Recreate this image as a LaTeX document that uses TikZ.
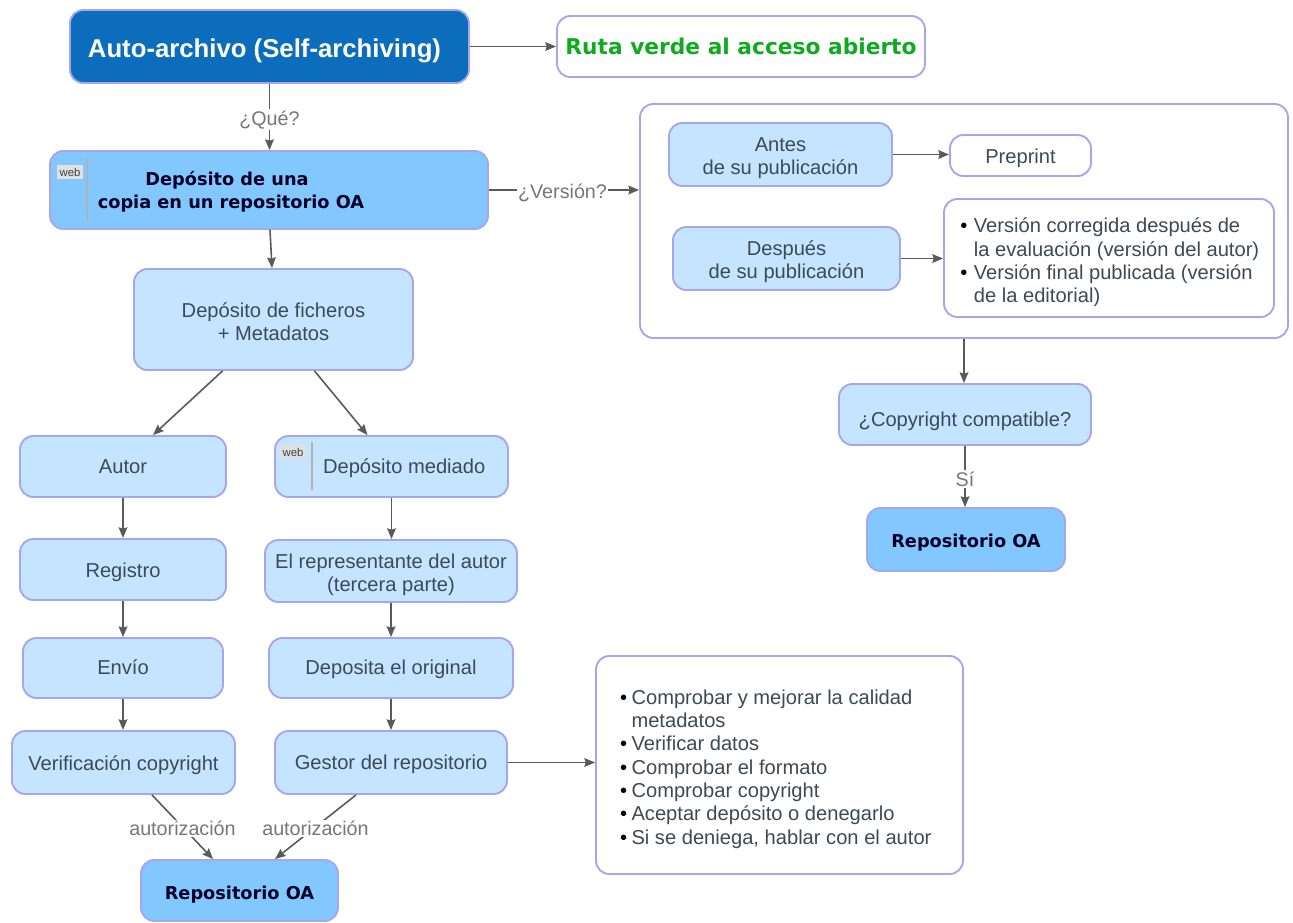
\documentclass[tikz,border=0pt]{standalone}
\usepackage{fontspec}
\setmainfont{Liberation Sans}
\newfontfamily\dejabold{DejaVu Sans Bold}
\usetikzlibrary{calc,arrows.meta}
\definecolor{edgeblue}{HTML}{A5A5F0}
\definecolor{lightb}{HTML}{C4E4FF}
\definecolor{midb}{HTML}{82C8FF}
\definecolor{darkb}{HTML}{0B6DBB}
\definecolor{txt}{HTML}{3C4A55}
\definecolor{lnk}{HTML}{5A5A5A}
\definecolor{lbl}{HTML}{777777}
\definecolor{vgreen}{HTML}{10AA20}
\newcommand{\bult}{\textcolor{black}{\textbullet}}
\tikzset{
  x=0.75pt,y=-0.75pt,
  base/.style={draw=edgeblue,line width=1.4pt,rounded corners=10pt,inner sep=0pt,align=center,
     font=\fontsize{15.1}{17.5}\selectfont,text=txt},
  light/.style={base,fill=lightb},
  plain/.style={base,fill=white},
  strong/.style={base,fill=midb,text=black!85!blue,font=\dejabold\fontsize{13.3}{17.5}\selectfont},
  top/.style={base,fill=darkb,text=white,font=\bfseries\fontsize{19.3}{21}\selectfont},
  lnk/.style={draw=lnk,line width=1.2pt,-{Stealth[length=8pt,width=6.5pt,inset=1pt]}},
  lab/.style={fill=white,inner sep=1pt,text=lbl,font=\fontsize{14.8}{17}\selectfont,yshift=-2pt},
  webtag/.style={fill=black!12,inner sep=0pt,minimum width=20pt,minimum height=11pt,text=black!75,font=\fontsize{8.5}{9}\selectfont},
  sep/.style={draw=black!30,line width=0.8pt}
}
% \bxc[dy px]{style}{name}{x1}{y1}{x2}{y2}{text}
\newcommand{\bxc}[8][2]{%
  \pgfmathsetmacro{\cxx}{(#4+#6)/2}\pgfmathsetmacro{\cyy}{(#5+#7)/2}%
  \pgfmathsetmacro{\ww}{(#6-#4)*0.75}\pgfmathsetmacro{\hh}{(#7-#5)*0.75}%
  \node[#2,minimum width=\ww pt,minimum height=\hh pt] (#3) at (\cxx,\cyy)
    {\raisebox{\dimexpr-#1pt*3/4\relax}[\height][\depth]{\begin{tabular}{@{}c@{}}#8\end{tabular}}};}
\begin{document}
\begin{tikzpicture}
\useasboundingbox (0,0) rectangle (1293,922);
\bxc[5]{top}{auto}{70}{10}{469}{83}{\hspace*{-7.5pt}Auto-archivo (Self-archiving)}
\bxc[3]{plain}{ruta}{557}{16}{925}{77}{\dejabold\fontsize{16.3}{17}\selectfont\textcolor{vgreen}{Ruta verde al acceso abierto}}
\bxc[2]{strong}{dep}{50}{151}{488}{229}{\hspace*{-57pt}\begin{tabular}{@{}c@{}}\hspace*{-6pt}Depósito de una\\ copia en un repositorio OA\end{tabular}}
\bxc[5]{light}{fich}{134}{269}{413}{370}{Depósito de ficheros\\+ Metadatos}
\bxc[2]{light}{autor}{20}{436}{226}{497}{Autor}
\bxc[2]{light}{med}{275}{436}{508}{497}{\hspace*{19pt}Depósito mediado}
\bxc[3]{light}{reg}{20}{539}{226}{600}{Registro}
\bxc[4]{light}{rep}{265}{540}{517}{602}{El representante del autor\\(tercera parte)}
\bxc[2]{light}{env}{23}{638}{223}{698}{Envío}
\bxc[2]{light}{depo}{269}{638}{513}{698}{Deposita el original}
\bxc[3]{light}{ver}{12}{731}{235}{794}{Verificación copyright}
\bxc[2]{light}{ges}{275}{731}{507}{794}{Gestor del repositorio}
\bxc[4]{strong}{repa}{141}{860}{338}{921}{Repositorio OA}
\bxc[0]{plain}{big}{640}{104}{1288}{338}{}
\bxc[4]{light}{antes}{669}{123}{892}{186}{Antes\\de su publicación}
\bxc[3]{plain}{pre}{950}{135}{1091}{176}{Preprint}
\bxc[4]{light}{desp}{673}{227}{900}{290}{Después\\de su publicación}
\bxc[5]{plain}{vers}{944}{199}{1274}{317}{\begin{tabular}{@{}l@{}l@{}}\makebox[11.3pt][l]{\hspace*{1.2pt}\bult}&Versión corregida después de\\&la evaluación (versión del autor)\\\hspace*{1.2pt}\bult&Versión final publicada (versión\\&de la editorial)\end{tabular}}
\bxc[7]{light}{copy}{839}{384}{1091}{445}{¿Copyright compatible?}
\bxc[3]{strong}{repb}{867}{508}{1065}{571}{Repositorio OA}
\bxc[4.5]{plain}{lista}{596}{656}{963}{874}{\begin{tabular}{@{}l@{}l@{}}\makebox[8.5pt][l]{\bult}&Comprobar y mejorar la calidad\\&metadatos\\\bult&Verificar datos\\\bult&Comprobar el formato\\\bult&Comprobar copyright\\\bult&Aceptar depósito o denegarlo\\\bult&Si se deniega, hablar con el autor\end{tabular}\hspace*{5.5pt}}
% web tags
\node[webtag] (w1) at (70,172) {web};
\coordinate (w1a) at (87,158); \coordinate (w1b) at (87,221);
\draw[sep] (w1a) -- (w1b);
\node[webtag] (w2) at (293,452) {web};
\coordinate (w2a) at (312,442); \coordinate (w2b) at (312,490);
\draw[sep] (w2a) -- (w2b);
% connectors
\draw[lnk] (auto.east) -- (auto.east -| ruta.west);
\draw[lnk] (auto.south) -- node[lab,pos=0.5] (q1) {¿Qué?} (auto.south |- dep.north);
\draw[lnk] (dep.east) -- node[lab,pos=0.49] (q2) {¿Versión?} (dep.east -| big.west);
\draw[lnk] ($(dep.south)+(1,0)$) -- ($(dep.south |- fich.north)+(3,0)$);
\draw[lnk] ($(fich.south)+(-51,0)$) -- ($(autor.north)+(30,0)$);
\draw[lnk] ($(fich.south)+(41,0)$) -- ($(med.north)+(-24,0)$);
\draw[lnk] (autor.south) -- (autor.south |- reg.north);
\draw[lnk] (reg.south) -- (reg.south |- env.north);
\draw[lnk] (env.south) -- (env.south |- ver.north);
\draw[lnk] (med.south) -- (med.south |- rep.north);
\draw[lnk] (rep.south) -- (rep.south |- depo.north);
\draw[lnk] (depo.south) -- (depo.south |- ges.north);
\draw[lnk] ($(ver.south)+(28.5,0)$) -- node[lab,pos=0.5,yshift=0.7pt] (a1) {autorización} ($(repa.north)+(-26.5,0)$);
\draw[lnk] ($(ges.south)+(-35,0)$) -- node[lab,pos=0.5,yshift=0.7pt] (a2) {autorización} ($(repa.north)+(35.5,0)$);
\draw[lnk] (ges.east) -- (ges.east -| lista.west);
\draw[lnk] (antes.east) -- (antes.east -| pre.west);
\draw[lnk] (desp.east) -- (desp.east -| vers.west);
\draw[lnk] (big.south) -- (big.south |- copy.north);
\draw[lnk] (copy.south) -- node[lab,pos=0.5] (si) {Sí} (copy.south |- repb.north);
\end{tikzpicture}
\end{document}
